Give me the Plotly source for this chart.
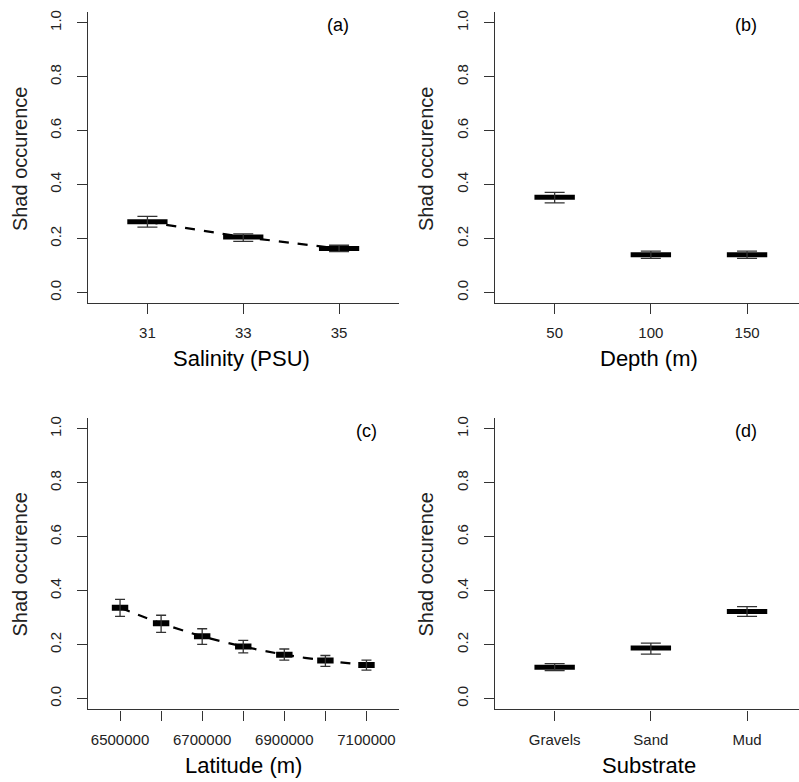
import plotly.graph_objects as go

# ---------------- data ----------------
salinity = [31, 33, 35]
sal_mean = [0.262, 0.206, 0.163]
sal_lo = [0.242, 0.189, 0.151]
sal_hi = [0.282, 0.217, 0.175]

depth_labels = ["50", "100", "150"]
depth_mean = [0.353, 0.140, 0.140]
depth_lo = [0.332, 0.126, 0.126]
depth_hi = [0.371, 0.153, 0.153]

latitude = [6500000, 6600000, 6700000, 6800000, 6900000, 7000000, 7100000]
lat_tick_text = ["6500000", "", "6700000", "", "6900000", "", "7100000"]
lat_mean = [0.337, 0.279, 0.231, 0.193, 0.163, 0.141, 0.125]
lat_lo = [0.305, 0.246, 0.201, 0.170, 0.143, 0.120, 0.106]
lat_hi = [0.368, 0.309, 0.259, 0.216, 0.184, 0.160, 0.143]

substrate_labels = ["Gravels", "Sand", "Mud"]
sub_mean = [0.116, 0.188, 0.323]
sub_lo = [0.104, 0.165, 0.305]
sub_hi = [0.130, 0.206, 0.341]

y_ticks = [0.0, 0.2, 0.4, 0.6, 0.8, 1.0]
y_tick_text = ["0.0", "0.2", "0.4", "0.6", "0.8", "1.0"]

# ---------------- geometry ----------------
W, H = 799, 782
FONT = "Liberation Sans, Arial, sans-serif"
AX = "#333333"


def px(x):
    return x / W


def py(y):
    return 1 - y / H


fig = go.Figure()


def add_panel(xs, mean, lo, hi, xa, ya, half_w, cap_px, bar_w, dashed):
    if dashed:
        fig.add_trace(go.Scatter(
            x=xs, y=mean, mode="lines", xaxis=xa, yaxis=ya,
            line=dict(color="black", width=2.2, dash="10px,9px", shape="spline", smoothing=0.6),
            hoverinfo="skip", showlegend=False))
    bx, by = [], []
    for x, m in zip(xs, mean):
        bx += [x - half_w, x + half_w, None]
        by += [m, m, None]
    fig.add_trace(go.Scatter(
        x=bx, y=by, mode="lines", xaxis=xa, yaxis=ya,
        line=dict(color="black", width=bar_w), hoverinfo="skip", showlegend=False))
    fig.add_trace(go.Scatter(
        x=xs, y=mean, mode="markers", xaxis=xa, yaxis=ya,
        marker=dict(size=1, color="rgba(0,0,0,0)"),
        error_y=dict(type="data", symmetric=False,
                     array=[h - m for h, m in zip(hi, mean)],
                     arrayminus=[m - l for m, l in zip(mean, lo)],
                     width=cap_px, thickness=1.3, color=AX),
        showlegend=False))


depth_pos = list(range(1, len(depth_labels) + 1))
sub_pos = list(range(1, len(substrate_labels) + 1))

add_panel(salinity, sal_mean, sal_lo, sal_hi, "x", "y", 0.42, 10, 5, True)
add_panel(depth_pos, depth_mean, depth_lo, depth_hi, "x2", "y2", 0.21, 10, 5, False)
add_panel(latitude, lat_mean, lat_lo, lat_hi, "x3", "y3", 20000, 5, 6, True)
add_panel(sub_pos, sub_mean, sub_lo, sub_hi, "x4", "y4", 0.21, 10, 5, False)

common_x = dict(showline=True, linecolor=AX, linewidth=1.4, ticks="outside", ticklen=10,
                tickwidth=1.3, tickcolor=AX, showgrid=False, zeroline=False, mirror=False,
                tickfont=dict(family=FONT, size=15, color="#222"), ticklabelstandoff=6)
common_y = dict(showline=True, linecolor=AX, linewidth=1.4, ticks="outside", ticklen=10,
                tickwidth=1.3, tickcolor=AX, showgrid=False, zeroline=False, mirror=False,
                tickvals=y_ticks, ticktext=y_tick_text, tickangle=-90, range=[-0.04, 1.04],
                tickfont=dict(family=FONT, size=15, color="#222"), ticklabelstandoff=10)

left_dom = [px(88), px(398.5)]
right_dom = [px(495), 1.0]
top_dom = [py(302), py(10)]
bot_dom = [py(709.3), py(417)]

fig.update_layout(
    width=W, height=H, margin=dict(l=0, r=0, t=0, b=0),
    plot_bgcolor="white", paper_bgcolor="white", showlegend=False,
    xaxis=dict(domain=left_dom, anchor="y", range=[29.76, 36.24],
               tickvals=salinity, ticktext=[str(s) for s in salinity], **common_x),
    yaxis=dict(domain=top_dom, anchor="x", **common_y),
    xaxis2=dict(domain=right_dom, anchor="y2", range=[0.38, 3.54],
                tickvals=depth_pos, ticktext=depth_labels, **common_x),
    yaxis2=dict(domain=top_dom, anchor="x2", **common_y),
    xaxis3=dict(domain=left_dom, anchor="y3", range=[6422000, 7178000],
                tickvals=latitude, ticktext=lat_tick_text, **common_x),
    yaxis3=dict(domain=bot_dom, anchor="x3", **common_y),
    xaxis4=dict(domain=right_dom, anchor="y4", range=[0.38, 3.54],
                tickvals=sub_pos, ticktext=substrate_labels, **common_x),
    yaxis4=dict(domain=bot_dom, anchor="x4", **common_y),
)

ann = []


def add_text(text, x, y, size, angle=0, color="black"):
    ann.append(dict(text=text, x=px(x), y=py(y), xref="paper", yref="paper",
                    showarrow=False, xanchor="center", yanchor="middle", textangle=angle,
                    font=dict(family=FONT, size=size, color=color)))


# x-axis titles
add_text("Salinity (PSU)", 241.7, 357, 22)
add_text("Depth (m)", 649, 357, 22)
add_text("Latitude (m)", 243, 765, 22)
add_text("Substrate", 649, 765, 22)
# y-axis titles
for (x, y) in [(20, 157.5), (426, 157.5), (20, 564), (426, 564)]:
    add_text("Shad occurence", x, y, 20, angle=-90, color="#222")
# panel labels
add_text("(a)", 338, 22.7, 18)
add_text("(b)", 745.7, 22.7, 18)
add_text("(c)", 366, 430, 18)
add_text("(d)", 745.7, 430, 18)

fig.update_layout(annotations=ann)
fig.write_html("out.html")
